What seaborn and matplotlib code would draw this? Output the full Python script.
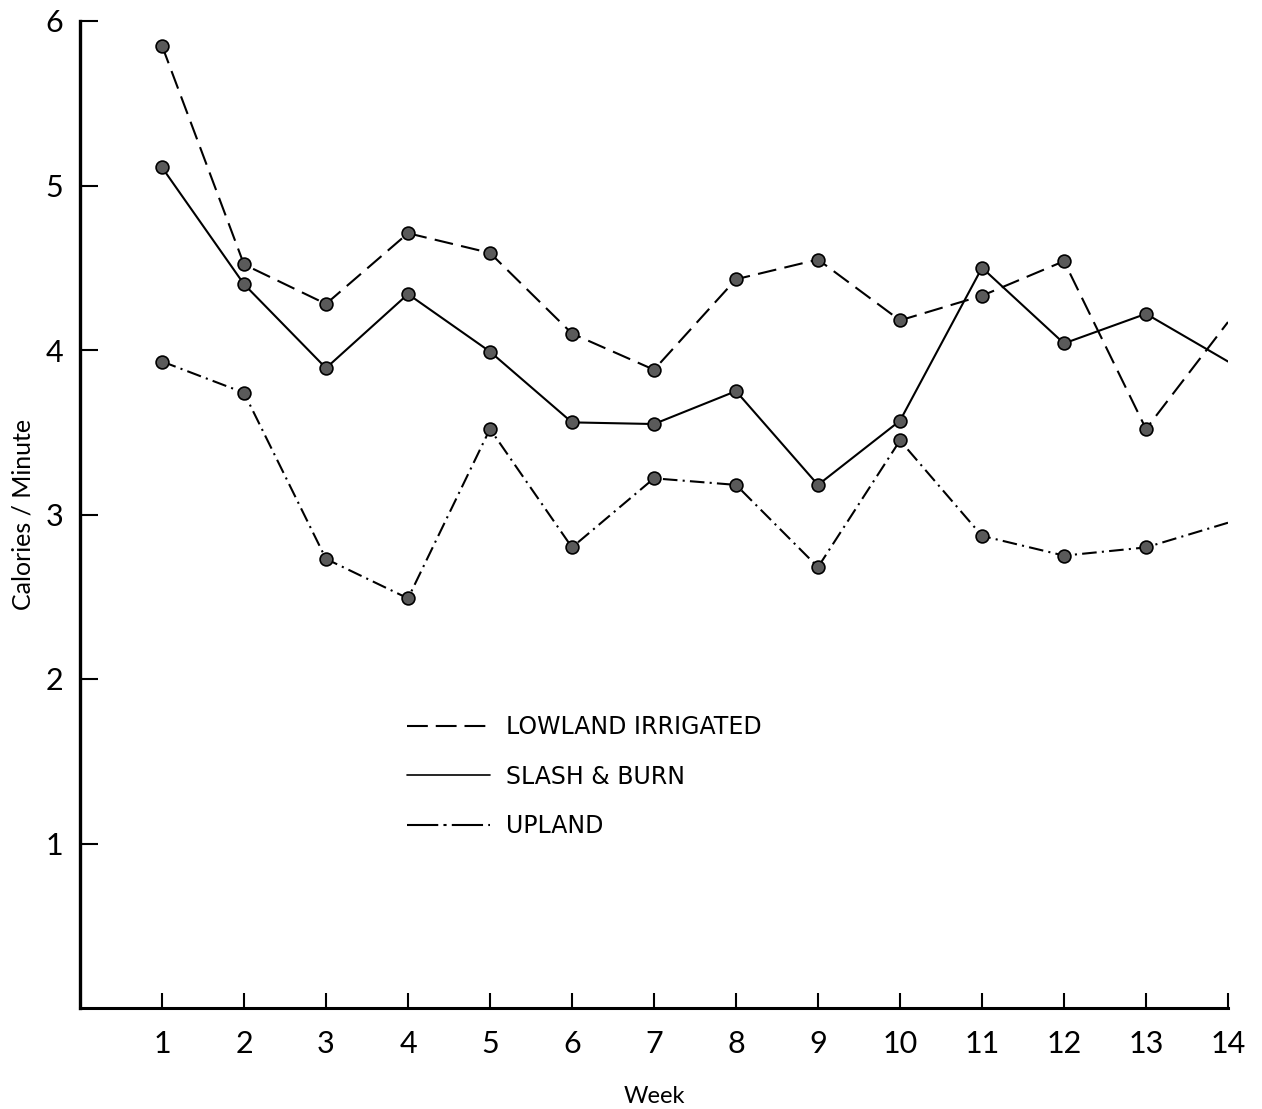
import numpy as np
import pandas as pd
import seaborn as sns
import matplotlib.pyplot as plt
from matplotlib.lines import Line2D, TICKUP, TICKRIGHT

# Weekly energy expenditure by farming system
weeks = [1, 2, 3, 4, 5, 6, 7, 8, 9, 10, 11, 12, 13, 14]
lowland = [5.85, 4.52, 4.28, 4.71, 4.59, 4.10, 3.88, 4.43, 4.55, 4.18, 4.33, 4.54, 3.52, 4.17]
slash_burn = [5.11, 4.40, 3.89, 4.34, 3.99, 3.56, 3.55, 3.75, 3.18, 3.57, 4.50, 4.04, 4.22, 3.93]
upland = [3.93, 3.74, 2.73, 2.49, 3.52, 2.80, 3.22, 3.18, 2.68, 3.45, 2.87, 2.75, 2.80, 2.95]
systems = ['LOWLAND IRRIGATED', 'SLASH & BURN', 'UPLAND']
y_ticks = [1, 2, 3, 4, 5, 6]

df = pd.DataFrame({
    'Week': weeks * 3,
    'Calories': lowland + slash_burn + upland,
    'System': np.repeat(systems, len(weeks)),
})
# the last week is drawn without a dot
dots = df[df['Week'] < weeks[-1]]

sns.set_style('white')
plt.rcParams['font.family'] = ['Lato', 'DejaVu Sans']
plt.rcParams['text.color'] = 'black'
plt.rcParams['axes.labelcolor'] = 'black'
plt.rcParams['xtick.direction'] = 'in'
plt.rcParams['ytick.direction'] = 'in'

dash_styles = {'LOWLAND IRRIGATED': (9, 4), 'SLASH & BURN': '', 'UPLAND': (7, 2.5, 1, 2.5)}

fig = plt.figure(figsize=(12.62, 11.09), dpi=100)
ax = fig.add_axes([80 / 1262, 1 - 1008 / 1109, 1148 / 1262, 987 / 1109])

sns.lineplot(data=df, x='Week', y='Calories', style='System', dashes=dash_styles,
             color='black', linewidth=1.5, legend=False, ax=ax)
sns.scatterplot(data=dots, x='Week', y='Calories', color='#5a5a5a', edgecolor='black',
                linewidth=1.2, s=85, legend=False, zorder=3, ax=ax)

ax.set_xlim(0, 14)
ax.set_ylim(0, 6)
ax.set_xticks(weeks)
ax.set_yticks(y_ticks)
ax.tick_params(axis='both', direction='in', colors='black', labelcolor='black',
               labelsize=22, width=1.5, bottom=True, left=True)
ax.tick_params(axis='x', length=11, pad=16)
ax.tick_params(axis='y', length=13, pad=12)
# ticks point into the plot, as on the original drawing
for t in ax.xaxis.get_major_ticks():
    t.tick1line.set_marker(TICKUP)
for t in ax.yaxis.get_major_ticks():
    t.tick1line.set_marker(TICKRIGHT)
for side in ['top', 'right']:
    ax.spines[side].set_visible(False)
ax.spines['left'].set_linewidth(2.4)
ax.spines['bottom'].set_linewidth(2.2)
ax.spines['left'].set_color('black')
ax.spines['bottom'].set_color('black')

ax.set_xlabel('Week', fontsize=17, labelpad=20)
ax.set_ylabel('Calories / Minute', fontsize=18, labelpad=8)

handles = [Line2D([], [], color='black', linewidth=1.5) for s in systems]
handles[0].set_dashes((10, 3.8))
handles[1].set_linewidth(1.2)
handles[2].set_dashes((15, 2.5, 1.5, 2.5))
ax.legend(handles, systems, loc='upper left', bbox_to_anchor=(407 / 1262, 1 - 715 / 1109),
          bbox_transform=fig.transFigure, frameon=False, borderpad=0,
          prop={'family': 'DejaVu Sans', 'size': 17},
          borderaxespad=0, handlelength=3.5, handletextpad=0.7, labelspacing=1.08)

fig.savefig('out.png', dpi=100)
